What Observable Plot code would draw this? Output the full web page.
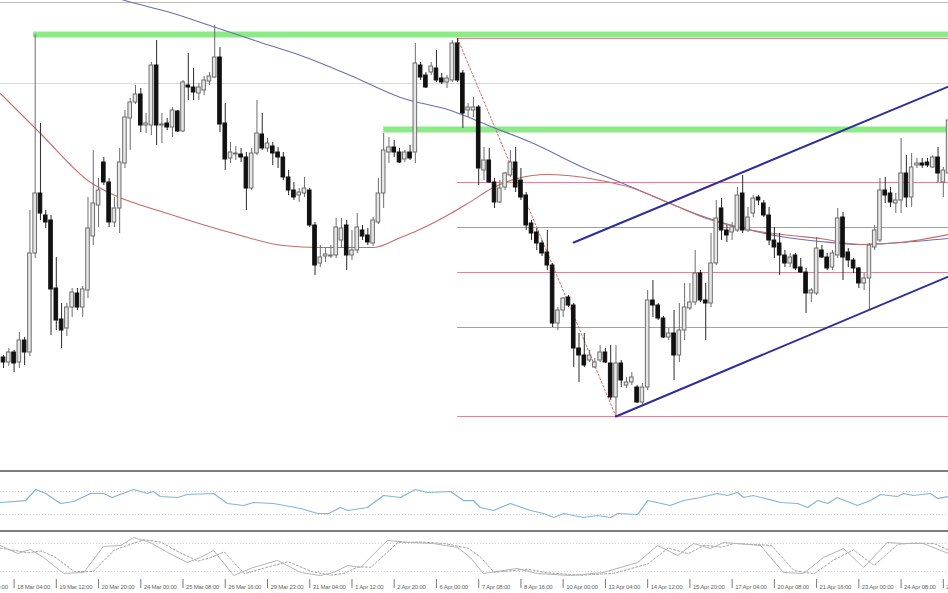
<!DOCTYPE html>
<html>
<head>
<meta charset="utf-8">
<script src="https://cdn.jsdelivr.net/npm/d3@7"></script>
<script src="https://cdn.jsdelivr.net/npm/@observablehq/plot@0.6"></script>
<style>
  body { margin: 0; background: #fff; }
  #chart { width: 948px; height: 593px; overflow: hidden; background: #fff; }
  #chart svg { display: block; }
  .sep { height: 2px; background: #7e7e7e; }
</style>
</head>
<body>
<div id="chart"></div>
<script>
// ---- H4 candles (price x 10000), bar index 0..179 ----
const open = [10563,10558,10568,10558,10580,10568,10667,10727,10705,10700,10632,10601,10592,10613,10627,10613,10630,10684,10715,10758,
10738,10698,10712,10757,10802,10818,10826,10795,10795,10855,10795,10797,10793,10809,10789,10835,10833,10827,10830,10839,
10843,10863,10797,10762,10766,10766,10763,10732,10767,10786,10772,10774,10768,10763,10743,10730,10725,10727,10730,10695,
10657,10664,10664,10665,10680,10695,10665,10670,10690,10685,10677,10698,10727,10768,10773,10768,10761,10768,10768,10855,
10845,10848,10852,10842,10838,10840,10877,10847,10810,10810,10813,10750,10760,10738,10718,10733,10745,10758,10740,10725,
10697,10688,10677,10668,10655,10597,10610,10623,10615,10572,10565,10560,10553,10560,10568,10557,10523,10557,10535,10538,
10533,10518,10533,10620,10615,10602,10583,10587,10565,10590,10612,10618,10647,10620,10617,10657,10712,10690,10688,10690,
10727,10690,10707,10723,10717,10705,10680,10677,10665,10657,10665,10653,10648,10627,10627,10670,10663,10653,10665,10703,
10668,10660,10652,10637,10642,10673,10680,10730,10727,10717,10720,10747,10723,10755,10757,10758,10753,10763,10738,10747];
const high = [10565,10572,10570,10588,10583,10710,10886,10797,10710,10705,10663,10617,10617,10632,10632,10634,10723,10770,10742,10763,
10742,10723,10772,10810,10822,10835,10832,10807,10858,10880,10807,10802,10813,10810,10840,10867,10852,10837,10844,10848,
10895,10873,10817,10778,10774,10772,10768,10772,10820,10807,10782,10778,10773,10768,10750,10738,10732,10743,10732,10698,
10675,10672,10675,10702,10702,10700,10690,10707,10695,10692,10703,10742,10787,10783,10780,10772,10770,10775,10877,10858,
10848,10858,10870,10847,10845,10880,10882,10850,10817,10823,10815,10773,10772,10742,10740,10748,10770,10773,10752,10728,
10700,10692,10680,10690,10657,10613,10623,10625,10617,10587,10587,10570,10562,10575,10572,10575,10575,10560,10543,10548,
10535,10537,10630,10640,10617,10604,10592,10610,10617,10637,10637,10670,10650,10637,10687,10720,10722,10695,10698,10733,
10745,10713,10725,10725,10720,10713,10693,10687,10670,10667,10667,10662,10652,10632,10683,10675,10667,10670,10712,10708,
10672,10662,10653,10647,10677,10695,10742,10743,10733,10727,10782,10765,10767,10762,10762,10762,10765,10773,10753,10803];
const low = [10552,10554,10548,10552,10555,10564,10662,10700,10692,10585,10590,10572,10584,10603,10610,10603,10622,10675,10693,10735,
10693,10693,10687,10752,10770,10816,10788,10787,10785,10775,10777,10790,10783,10788,10788,10820,10820,10820,10825,10835,
10842,10788,10750,10757,10760,10758,10710,10730,10765,10770,10768,10755,10752,10740,10725,10720,10718,10723,10693,10645,
10653,10658,10662,10662,10672,10650,10660,10667,10680,10675,10674,10696,10712,10757,10763,10757,10758,10760,10757,10840,
10832,10845,10838,10836,10832,10838,10838,10792,10803,10803,10735,10740,10737,10712,10717,10730,10743,10728,10720,10690,
10680,10670,10664,10650,10593,10590,10603,10613,10553,10538,10553,10558,10552,10558,10557,10520,10504,10533,10532,10535,
10517,10516,10530,10603,10600,10582,10580,10540,10558,10580,10610,10615,10618,10580,10613,10655,10680,10678,10680,10688,
10687,10688,10703,10715,10703,10675,10662,10645,10653,10653,10650,10647,10607,10618,10625,10662,10650,10650,10662,10640,
10653,10647,10632,10630,10610,10670,10678,10717,10713,10707,10707,10713,10713,10752,10752,10753,10752,10738,10723,10745];
const close = [10558,10568,10557,10580,10568,10667,10727,10707,10698,10631,10600,10590,10613,10628,10613,10631,10692,10717,10730,10738,
10698,10712,10758,10803,10818,10826,10795,10797,10855,10795,10796,10793,10810,10789,10838,10833,10828,10833,10840,10844,
10863,10796,10761,10768,10767,10763,10732,10767,10787,10772,10777,10767,10763,10743,10730,10723,10728,10732,10695,10655,
10663,10666,10665,10693,10692,10665,10670,10693,10684,10678,10700,10727,10770,10773,10768,10758,10768,10762,10857,10843,
10833,10854,10840,10838,10842,10877,10840,10807,10813,10813,10752,10760,10738,10718,10732,10747,10758,10733,10723,10695,
10687,10677,10667,10655,10597,10610,10622,10615,10572,10565,10555,10565,10558,10568,10558,10523,10557,10540,10538,10543,
10518,10533,10620,10615,10602,10583,10587,10565,10590,10613,10618,10647,10620,10617,10657,10702,10690,10685,10693,10725,
10690,10703,10722,10720,10705,10680,10673,10665,10657,10663,10652,10648,10627,10630,10672,10663,10652,10667,10702,10663,
10660,10652,10637,10642,10675,10690,10730,10725,10718,10720,10747,10723,10753,10757,10755,10755,10763,10747,10750,10800];

// ---- moving averages read at sample bars (price x 10000) ----
const maSlowIdx = [18, 23, 31.6, 40.2, 48.7, 56.3, 65.7, 75.2, 84.7, 92.8, 100.4, 109.8, 116.9, 126.3, 132, 140.2, 147.2, 154.7, 162.3, 169.9, 179];
const maSlowVal = [10928, 10920, 10908, 10893, 10878, 10865, 10845, 10823, 10810, 10793, 10777, 10753, 10738, 10717, 10705, 10692, 10684, 10679, 10676, 10678, 10682];
const maFastIdx = [-0.6, 7, 16.5, 20.3, 31.1, 43.6, 53, 60, 70.1, 75.2, 78.4, 84.7, 87.9, 92.8, 97.3, 103, 106.8, 113.1, 118.8, 126.3, 132.6, 142, 149.1, 154.7, 162.3, 169.9, 179];
const maFastVal = [10827, 10787, 10738, 10727, 10707, 10687, 10675, 10673, 10673, 10683, 10690, 10707, 10717, 10733, 10742, 10746, 10745, 10740, 10733, 10717, 10703, 10690, 10685, 10682, 10676, 10678, 10686];

// ---- drawn objects ----
const greenStart = [5.7, 72];          // bar where each resistance zone starts
const greenLevel = [10886, 10791];
const fibStart = 86, fibEnd = 179;
const fibLevels = [10504, 10593, 10648, 10693, 10738, 10882];
const fibDiagIdx = [86, 116], fibDiagVal = [10882, 10504];
const chanUpIdx = [108, 179], chanUpVal = [10678, 10834];
const chanLoIdx = [116, 179], chanLoVal = [10504, 10644];
const gridLevel = 10837, panelTop = 10918;

// ---- RSI ----
const rsiIdx = [-0.6,4.2,6.1,8,10.8,13.3,16.5,18.9,20.6,24.6,27.3,28.4,29.7,33,34.8,39.8,42.4,45.5,47.3,51.1,56.3,59.5,61.6,63.8,65.2,68.9,72,75.2,78,80.3,84.7,87.1,89,90.3,92.8,96,99.8,102.3,104.2,106.1,109.8,112.5,115,116.3,120.1,122,126.3,128.8,132,135.2,137.1,139,140.2,142,147.2,150.4,152.3,154.2,156.1,157.9,161.7,164.2,166.1,169.3,170.5,172.3,175.6,176.9,179];
const rsiVal = [50.9,54.3,73.5,66.5,49.1,52.6,66.5,66.5,59.6,73.5,66.5,70,61.3,59.6,64.8,66.5,49.1,45.7,50.9,49.1,40.4,31.7,31.7,42.2,37,42.2,63,59.6,73.5,68.3,70,54.3,54.3,42.2,37,49.1,37,31.7,24.8,31.7,24.8,28.3,24.8,31.7,30,54.3,45.7,54.3,59.6,66.5,63,68.3,59.6,63,50.9,49.1,42.2,54.3,49.1,59.6,45.7,54.3,64.8,61.3,66.5,63,66.5,57.9,61.3];
const rsiLevels = [30, 70];

// ---- Stochastic ----
const stoIdx = [-0.6,2.7,5.1,7.6,11.4,15.2,18.9,22.2,24.6,27.8,31.1,34.8,37.3,39.8,43.6,47.3,51.9,56.3,60,62.5,65.2,67.6,72.7,77.1,81.4,86,88.4,90.9,97.3,101.1,107.4,113.6,120.1,123.9,127.7,130.7,133.9,136.4,143.4,147.7,151.5,155.3,159.1,162.9,167.4,170.5,174.2,179];
const stoK = [75.6,58.5,67,49.9,15.6,17.8,73.4,75.6,92.7,82,60.6,39.2,49.9,64.9,11.3,28.5,43.5,17.8,11.3,17.8,32.8,28.5,86.3,82,79.9,71.4,49.9,15.6,26.4,15.6,11.3,17.8,39.2,75.6,54.2,79.9,69.2,82,75.6,17.8,15.6,49.9,69.2,28.5,82,79.9,79.9,58.5];
const sigIdx = [-0.6,4.7,7.1,9.6,13.4,17,21,24,26.6,29.8,33.1,36.8,39.3,41.8,45.6,49.3,53.9,58.3,62,64.5,67.2,69.6,74.7,79,83.4,88,90.4,92.9,99.3,103,109.4,115.6,122,125.9,129.7,132.7,135.9,138.4,145.4,149.7,153.5,157.3,161,164.9,169.4,172.5,176.2,179];
const sigD = [70,60,64,52,20,20,66,78,88,83,62,42,50,62,15,27,41,20,12,16,30,29,82,83,80,70,50,18,25,17,12,16,36,70,58,76,72,80,76,22,15,45,66,33,78,81,80,66];
const stoLevels = [20, 80];

// ---- time axis ----
const tickIdx = [-6,2,10,18,26,34,42,50,58,66,74,82,90,98,106,114,122,130,138,146,154,162,170,178];
const tickLabels = ["16 Mar 20:00","18 Mar 04:00","19 Mar 12:00","20 Mar 20:00","24 Mar 00:00","25 Mar 08:00","26 Mar 16:00","29 Mar 23:00",
  "31 Mar 04:00","1 Apr 12:00","2 Apr 20:00","6 Apr 00:00","7 Apr 08:00","8 Apr 16:00","10 Apr 00:00","13 Apr 04:00",
  "14 Apr 12:00","15 Apr 20:00","17 Apr 04:00","20 Apr 08:00","21 Apr 16:00","23 Apr 00:00","24 Apr 08:00","27 Apr 12:00"];

// ---------------- build ----------------
const P = v => v / 10000;
const W = 948;
const xDom = [-0.57, 178.98];
const xOpt = {domain: xDom, range: [0, W], axis: null};

const candles = open.map((o, i) => ({i, o: P(o), h: P(high[i]), l: P(low[i]), c: P(close[i]), up: close[i] >= open[i]}));
const pts = (idx, val, f = P) => idx.map((x, k) => ({i: x, v: f(val[k])}));
const id = v => v;
const greens = greenStart.map((s, k) => ({s, v: P(greenLevel[k])}));

const main = Plot.plot({
  width: W, height: 470, margin: 0,
  x: xOpt,
  y: {domain: [1.0450, 1.0920], range: [470, 0], axis: null},
  marks: [
    Plot.ruleY([P(panelTop)], {stroke: "#bdbdbd"}),
    Plot.ruleY([P(gridLevel)], {stroke: "#dadada"}),
    Plot.ruleY(greens, {y: "v", x1: "s", x2: () => fibEnd, stroke: "#8ceb86", strokeWidth: 6}),
    Plot.ruleY(fibLevels, {y: d => P(d), x1: () => fibStart, x2: () => fibEnd, stroke: "#da8696", strokeWidth: 1}),
    Plot.line(pts(fibDiagIdx, fibDiagVal), {x: "i", y: "v", stroke: "#c27070", strokeWidth: 1, strokeDasharray: "2,2"}),
    Plot.line(pts(maSlowIdx, maSlowVal), {x: "i", y: "v", stroke: "#6e6eb0", strokeWidth: 1.1, curve: "monotone-x", clip: true}),
    Plot.line(pts(maFastIdx, maFastVal), {x: "i", y: "v", stroke: "#c76a6a", strokeWidth: 1.1, curve: "monotone-x", clip: true}),
    Plot.ruleX(candles, {x: "i", y1: "l", y2: "h", stroke: d => d.up ? "#6d6d6d" : "#2a2a2a", strokeWidth: 1}),
    Plot.rect(candles, {x1: d => d.i - 0.34, x2: d => d.i + 0.34, y1: "o", y2: "c",
      fill: d => d.up ? "#e6e6e6" : "#111111", stroke: d => d.up ? "#6d6d6d" : "#111111", strokeWidth: 1}),
    Plot.line(pts(chanUpIdx, chanUpVal), {x: "i", y: "v", stroke: "#2d2d9e", strokeWidth: 2}),
    Plot.line(pts(chanLoIdx, chanLoVal), {x: "i", y: "v", stroke: "#2d2d9e", strokeWidth: 2})
  ]
});

const rsi = Plot.plot({
  width: W, height: 58, margin: 0,
  x: xOpt,
  y: {domain: [0, 100], range: [59.25, 1.75], axis: null},
  marks: [
    Plot.ruleY(rsiLevels, {stroke: "#cfcfcf", strokeDasharray: "1,2"}),
    Plot.line(pts(rsiIdx, rsiVal, id), {x: "i", y: "v", stroke: "#86b4d6", strokeWidth: 1.2})
  ]
});

const sto = Plot.plot({
  width: W, height: 45, margin: 0,
  x: xOpt,
  y: {domain: [0, 100], range: [48.3, 1.6], axis: null},
  marks: [
    Plot.ruleY(stoLevels, {stroke: "#d2d2d2", strokeDasharray: "1,2"}),
    Plot.line(pts(sigIdx, sigD, id), {x: "i", y: "v", stroke: "#a4a4a4", strokeWidth: 1, strokeDasharray: "2,2", clip: true}),
    Plot.line(pts(stoIdx, stoK, id), {x: "i", y: "v", stroke: "#b4b4b4", strokeWidth: 1, clip: true})
  ]
});

const ticks = tickIdx.map((x, k) => ({x, label: tickLabels[k]}));
const axis = Plot.plot({
  width: W, height: 16, marginTop: 2, marginBottom: 5, marginLeft: 0, marginRight: 0,
  x: xOpt,
  marks: [
    Plot.tickX(ticks, {x: "x", stroke: "#7a7a7a"}),
    Plot.text(ticks, {x: "x", text: "label", textAnchor: "start", dx: 3, dy: 3, fill: "#666",
      fontSize: 6, fontFamily: "Liberation Sans, Arial, sans-serif"})
  ]
});
axis.querySelectorAll("text").forEach(t => t.setAttribute("letter-spacing", "-0.2"));

const root = document.getElementById("chart");
const sep = () => { const d = document.createElement("div"); d.className = "sep"; return d; };
root.append(main, sep(), rsi, sep(), sto, axis);
</script>
</body>
</html>
